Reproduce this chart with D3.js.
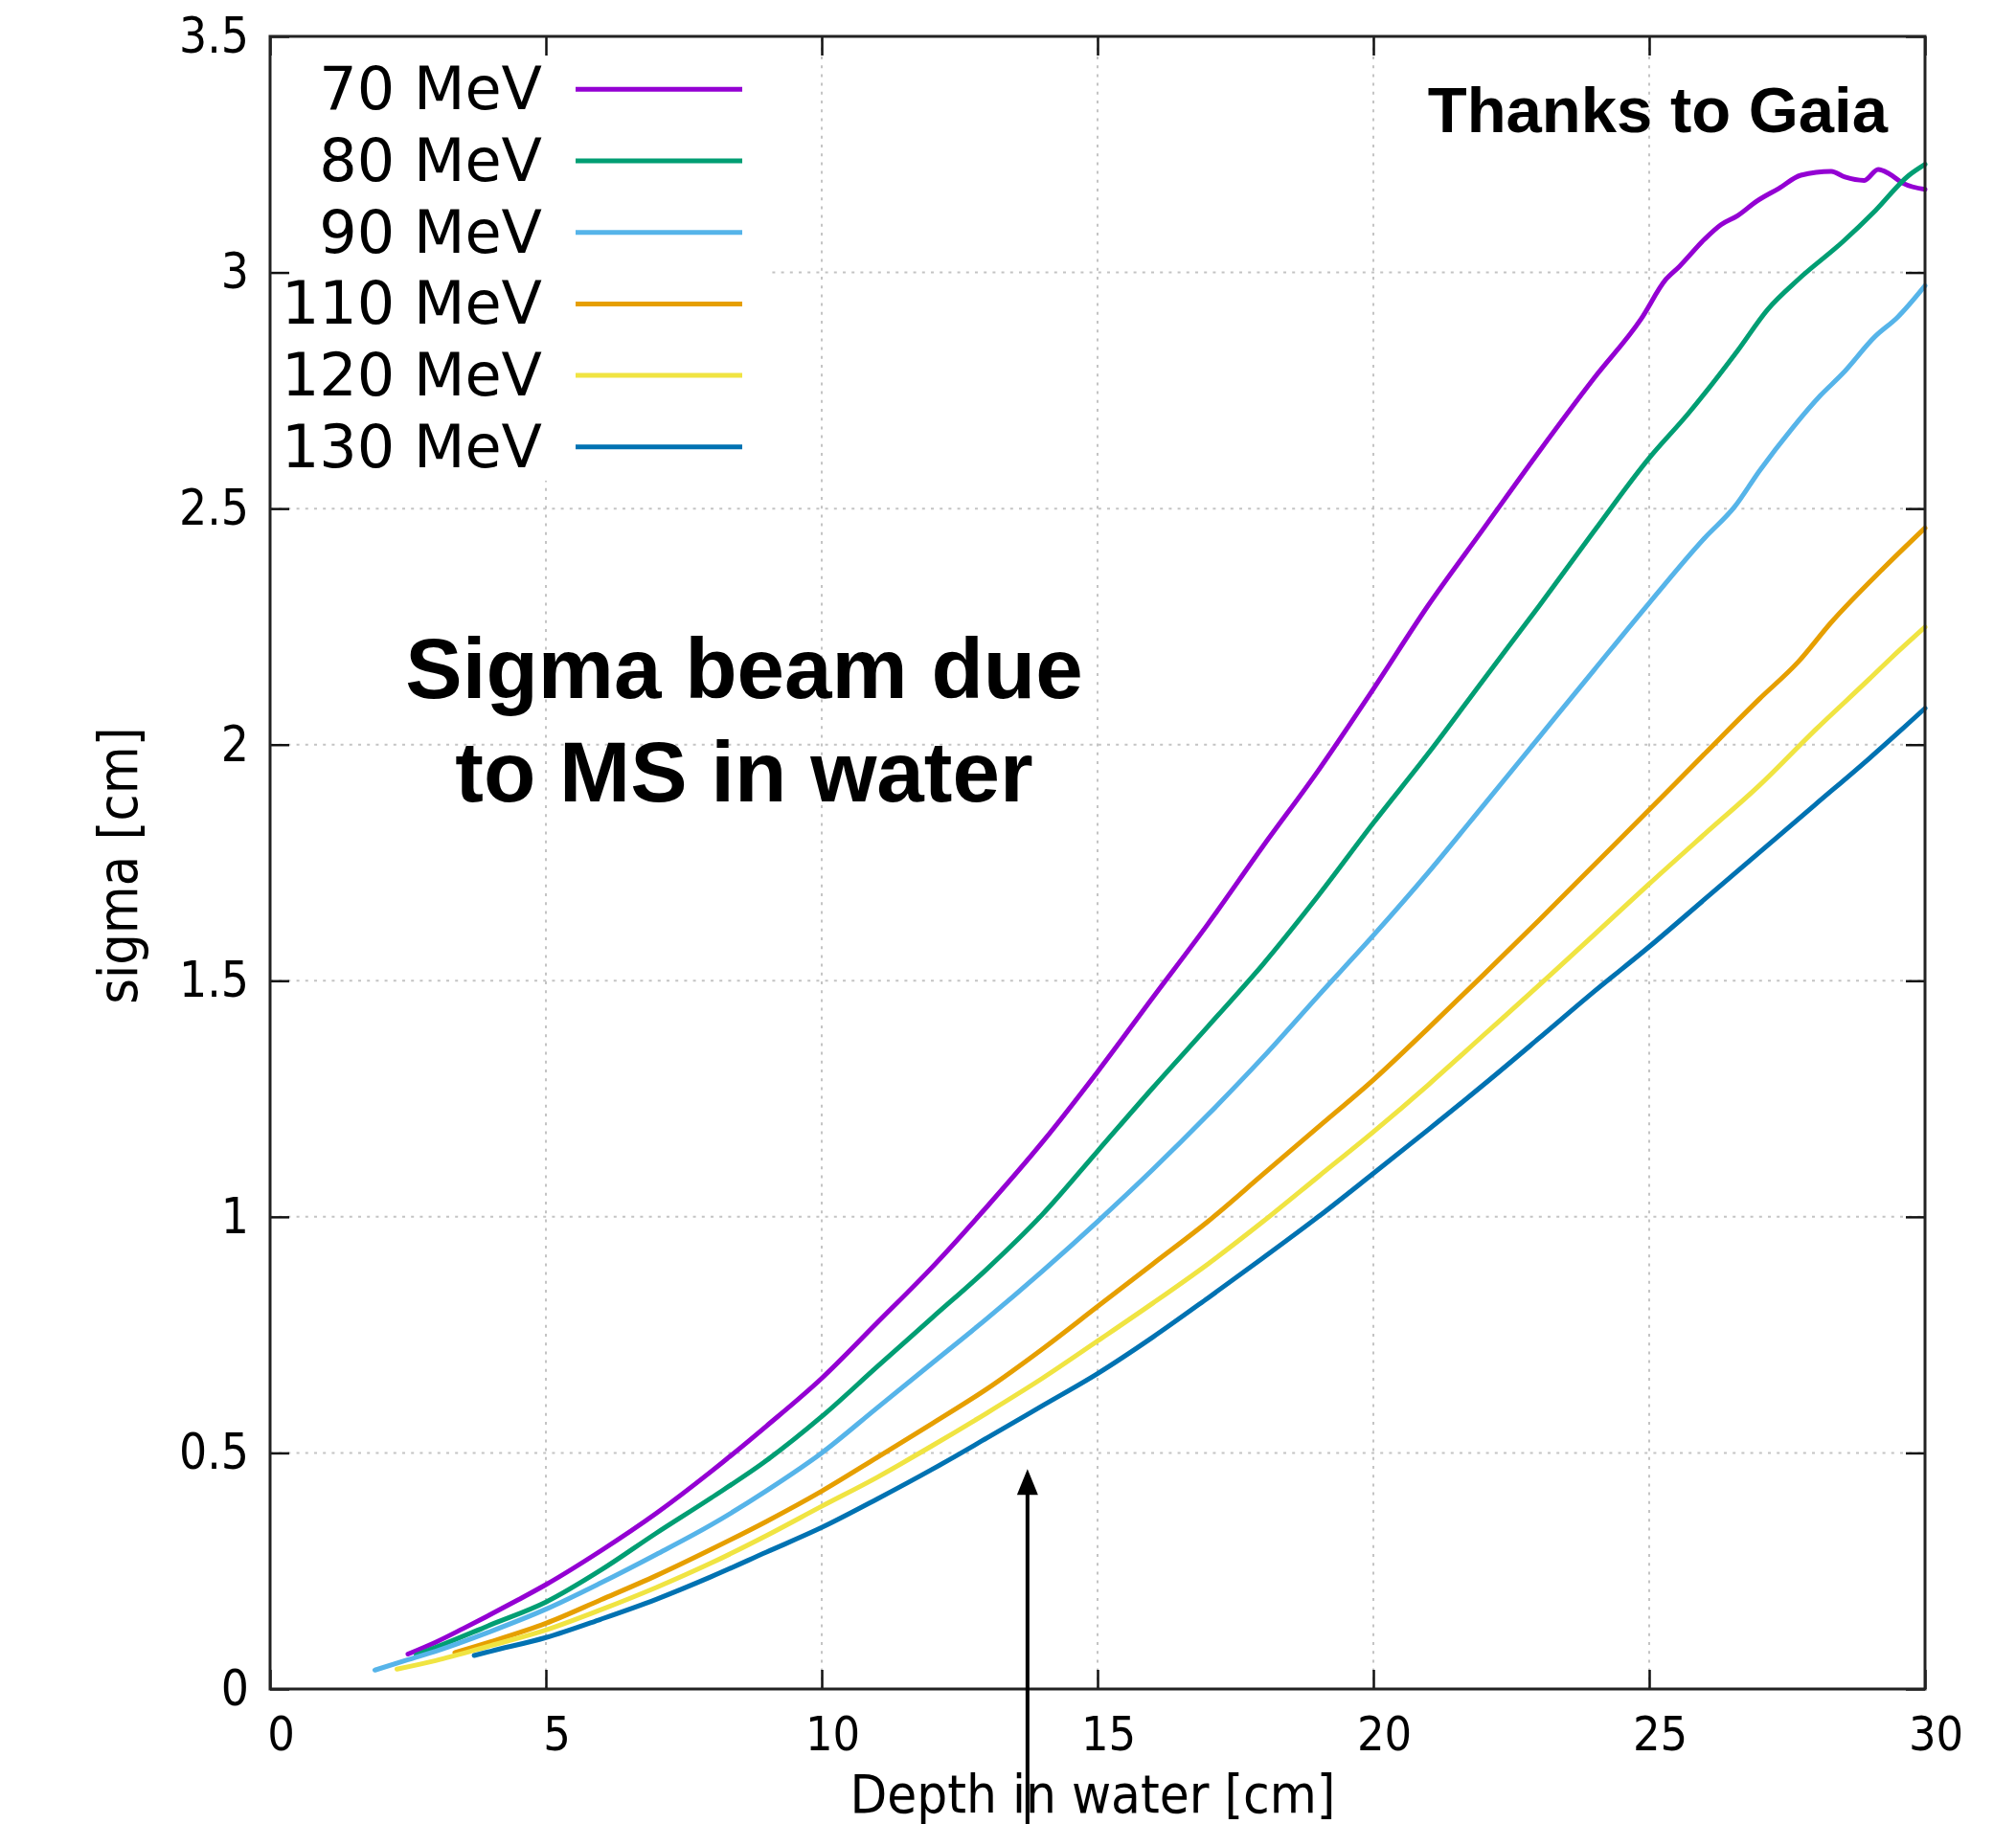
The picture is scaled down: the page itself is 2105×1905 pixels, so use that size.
<!DOCTYPE html>
<html><head><meta charset="utf-8">
<script src="https://cdn.jsdelivr.net/npm/d3@7"></script>
<style>body{margin:0;background:#fff} svg{display:block}</style>
</head><body>
<svg id="chart" width="2105" height="1905"></svg>
<script>
// ---------- data ----------
const seriesNames = ["70 MeV", "80 MeV", "90 MeV", "110 MeV", "120 MeV", "130 MeV"];
const seriesColors = ["#9400D3", "#009E73", "#56B4E9", "#E69F00", "#F0E442", "#0072B2"];

const depth70 = [2.5, 3, 3.5, 4, 4.5, 5, 6, 7, 8, 9, 10, 11, 12, 13, 14, 15, 16, 17, 18, 19, 20, 21, 22, 23, 24, 24.85, 25.3, 25.55, 26, 26.3, 26.6, 26.95, 27.35, 27.75, 28.3, 28.55, 28.9, 29.15, 29.35, 29.6, 30];
const sigma70 = [0.074, 0.099, 0.128, 0.158, 0.189, 0.221, 0.293, 0.372, 0.461, 0.557, 0.658, 0.775, 0.893, 1.022, 1.158, 1.307, 1.464, 1.62, 1.785, 1.945, 2.118, 2.296, 2.458, 2.62, 2.776, 2.901, 2.985, 3.013, 3.07, 3.101, 3.12, 3.151, 3.178, 3.206, 3.214, 3.202, 3.195, 3.218, 3.209, 3.189, 3.176];

const depth80 = [2.65, 3, 4, 5, 6, 7, 8, 9, 10, 11, 12, 13, 14, 15, 16, 17, 18, 19, 20, 21, 22, 23, 24, 25, 25.7, 26.6, 27.15, 27.7, 28.5, 29.1, 29.7, 30];
const sigma80 = [0.072, 0.088, 0.136, 0.184, 0.252, 0.33, 0.405, 0.484, 0.577, 0.682, 0.786, 0.89, 1.005, 1.139, 1.273, 1.403, 1.535, 1.68, 1.834, 1.982, 2.138, 2.293, 2.452, 2.607, 2.70, 2.834, 2.922, 2.985, 3.064, 3.131, 3.205, 3.229];

const depth90 = [1.9, 2.5, 3, 4, 5, 6, 7, 8, 9, 10, 11, 12, 13, 14, 15, 16, 17, 18, 19, 20, 21, 22, 23, 24, 25, 26, 26.55, 27, 27.6, 28.1, 28.5, 29.1, 29.5, 30];
const sigma90 = [0.040, 0.062, 0.080, 0.122, 0.169, 0.225, 0.285, 0.348, 0.42, 0.50, 0.595, 0.69, 0.785, 0.885, 0.99, 1.1, 1.216, 1.338, 1.468, 1.596, 1.73, 1.872, 2.015, 2.158, 2.30, 2.437, 2.504, 2.58, 2.671, 2.739, 2.785, 2.865, 2.905, 2.972];

const depth110 = [3.35, 4, 5, 6, 7, 8, 9, 10, 11, 12, 13, 14, 15, 16, 17, 18, 19, 20, 21, 22, 23, 24, 25, 26, 27, 27.7, 28.3, 29.25, 30];
const sigma110 = [0.077, 0.10, 0.139, 0.189, 0.24, 0.296, 0.355, 0.419, 0.49, 0.562, 0.636, 0.72, 0.81, 0.90, 0.99, 1.09, 1.19, 1.29, 1.40, 1.513, 1.628, 1.745, 1.862, 1.98, 2.097, 2.175, 2.259, 2.374, 2.459];

const depth120 = [2.3, 3, 4, 5, 6, 7, 8, 9, 10, 11, 12, 13, 14, 15, 16, 17, 18, 19, 20, 21, 22, 23, 24, 25, 26, 27, 28, 29, 29.4, 30];
const sigma120 = [0.042, 0.06, 0.092, 0.125, 0.168, 0.215, 0.267, 0.325, 0.387, 0.448, 0.515, 0.585, 0.658, 0.737, 0.817, 0.90, 0.99, 1.085, 1.18, 1.28, 1.385, 1.49, 1.597, 1.705, 1.81, 1.914, 2.03, 2.14, 2.185, 2.249];

const depth130 = [3.7, 4, 5, 6, 7, 8, 9, 10, 11, 12, 13, 14, 15, 16, 17, 18, 19, 20, 21, 22, 23, 24, 25, 26, 27, 28, 29, 30];
const sigma130 = [0.071, 0.08, 0.109, 0.148, 0.19, 0.238, 0.29, 0.342, 0.402, 0.465, 0.532, 0.60, 0.668, 0.745, 0.828, 0.913, 1.0, 1.092, 1.185, 1.28, 1.378, 1.477, 1.572, 1.672, 1.772, 1.872, 1.972, 2.077];

const xTicks = [0, 5, 10, 15, 20, 25, 30];
const yTicks = [0, 0.5, 1, 1.5, 2, 2.5, 3, 3.5];
const yTickLabels = ["0", "0.5", "1", "1.5", "2", "2.5", "3", "3.5"];

const xTitle = "Depth in water [cm]";
const yTitle = "sigma [cm]";
const noteTopRight = "Thanks to Gaia";
const noteCenter = ["Sigma beam due", "to MS in water"];
const arrowDepth = 13.73, arrowTipSigma = 0.466, arrowTailSigma = -0.35;

// ---------- layout ----------
const W = 2105, H = 1905;
const M = {left: 282, right: 95, top: 38, bottom: 141};
const svg = d3.select("#chart");
const x = d3.scaleLinear().domain([0, 30]).range([M.left, W - M.right]);
const y = d3.scaleLinear().domain([0, 3.5]).range([H - M.bottom, M.top]);
const tickFont = "'DejaVu Sans Condensed', 'DejaVu Sans', sans-serif";
const boldFont = "'Liberation Sans', Arial, Helvetica, sans-serif";

const series = [
  [depth70, sigma70], [depth80, sigma80], [depth90, sigma90],
  [depth110, sigma110], [depth120, sigma120], [depth130, sigma130]
].map(([d, s], i) => ({name: seriesNames[i], color: seriesColors[i], pts: d.map((v, j) => [v, s[j]])}));

// grid
const grid = svg.append("g").attr("stroke", "#c4c4c4").attr("stroke-width", 2).attr("stroke-dasharray", "3,6.2");
xTicks.filter(v => v > 0 && v < 30).forEach(v => {
  grid.append("line").attr("x1", x(v)).attr("x2", x(v)).attr("y1", y(0)).attr("y2", y(3.5));
});
yTicks.filter(v => v > 0 && v < 3.5).forEach(v => {
  grid.append("line").attr("x1", x(0)).attr("x2", x(30)).attr("y1", y(v)).attr("y2", y(v));
});

// legend background (opaque key box)
svg.append("rect").attr("x", x(0)).attr("y", y(3.5)).attr("width", 524).attr("height", 464).attr("fill", "#fff");

// curves
const line = d3.line().x(d => x(d[0])).y(d => y(d[1])).curve(d3.curveMonotoneX);
svg.append("g").selectAll("path").data(series).join("path")
  .attr("d", d => line(d.pts)).attr("fill", "none").attr("stroke", d => d.color)
  .attr("stroke-width", 5).attr("stroke-linejoin", "round").attr("stroke-linecap", "round");

// axes
const axisStyle = g => {
  g.select(".domain").remove();
  g.selectAll(".tick line").attr("stroke", "#111").attr("stroke-width", 2.5);
};
svg.append("g").attr("transform", `translate(0,${y(0)})`)
  .call(d3.axisBottom(x).tickValues(xTicks).tickSize(-20).tickFormat(d3.format("d")))
  .call(axisStyle)
  .call(g => g.selectAll("text").attr("y", 46).attr("dy", "0.36em").attr("dx", 11)
    .attr("font-family", tickFont).attr("font-stretch", "condensed").attr("font-size", 50).attr("fill", "#000"));
svg.append("g").attr("transform", `translate(0,${y(3.5)})`)
  .call(d3.axisTop(x).tickValues(xTicks).tickSize(-20).tickFormat(""))
  .call(axisStyle);
svg.append("g").attr("transform", `translate(${x(0)},0)`)
  .call(d3.axisLeft(y).tickValues(yTicks).tickSize(-20).tickPadding(22).tickFormat((d, i) => yTickLabels[i]))
  .call(axisStyle)
  .call(g => g.selectAll("text").attr("font-family", tickFont).attr("font-stretch", "condensed")
    .attr("font-size", 51).attr("fill", "#000"));
svg.append("g").attr("transform", `translate(${x(30)},0)`)
  .call(d3.axisRight(y).tickValues(yTicks).tickSize(-20).tickFormat(""))
  .call(axisStyle);

// border
svg.append("rect").attr("x", x(0)).attr("y", y(3.5)).attr("width", x(30) - x(0)).attr("height", y(0) - y(3.5))
  .attr("fill", "none").attr("stroke", "#222").attr("stroke-width", 3);

// legend
const leg = svg.append("g");
series.forEach((s, i) => {
  const ly = 93.3 + i * 74.7;
  leg.append("text").attr("x", 566).attr("y", ly + 21).attr("text-anchor", "end")
    .attr("font-family", "'DejaVu Sans', sans-serif").attr("font-size", 62).attr("fill", "#000").text(s.name);
  leg.append("line").attr("x1", 601).attr("x2", 775).attr("y1", ly).attr("y2", ly)
    .attr("stroke", s.color).attr("stroke-width", 5);
});

// axis titles
svg.append("text").attr("x", 1141).attr("y", 1893).attr("text-anchor", "middle")
  .attr("font-family", tickFont).attr("font-stretch", "condensed").attr("font-size", 56).attr("fill", "#000").text(xTitle);
svg.append("text").attr("transform", "translate(143,904) rotate(-90)").attr("text-anchor", "middle")
  .attr("font-family", tickFont).attr("font-stretch", "condensed").attr("font-size", 57).attr("fill", "#000").text(yTitle);

// annotations
svg.append("text").attr("x", 1971).attr("y", 138).attr("text-anchor", "end")
  .attr("font-family", boldFont).attr("font-weight", "bold").attr("font-size", 67).attr("fill", "#000").text(noteTopRight);
noteCenter.forEach((t, i) => {
  svg.append("text").attr("x", 777).attr("y", 729 + i * 107.5).attr("text-anchor", "middle")
    .attr("font-family", boldFont).attr("font-weight", "bold").attr("font-size", 89).attr("fill", "#000").text(t);
});

// arrow
const ax = x(arrowDepth), tipY = y(arrowTipSigma);
svg.append("line").attr("x1", ax).attr("x2", ax).attr("y1", y(arrowTailSigma)).attr("y2", tipY + 20)
  .attr("stroke", "#000").attr("stroke-width", 4);
svg.append("path").attr("d", `M${ax},${tipY} L${ax - 11},${tipY + 27} L${ax + 11},${tipY + 27} Z`).attr("fill", "#000");
</script>
</body></html>
